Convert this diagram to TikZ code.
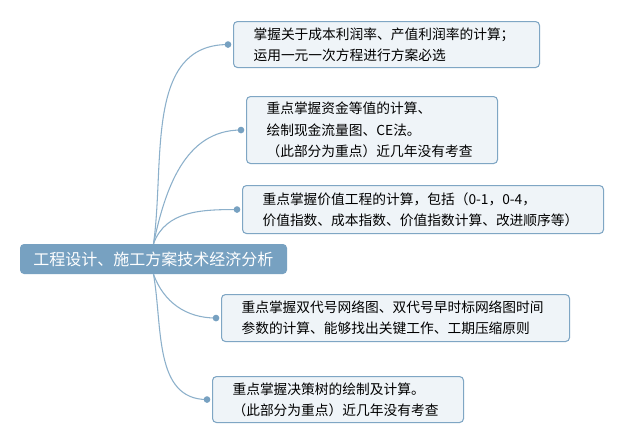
\documentclass[tikz,border=0pt]{standalone}
\usepackage{fontspec}
\setmainfont{Noto Sans CJK SC}
\usetikzlibrary{calc}
\definecolor{mapblue}{HTML}{77A1C1}
\definecolor{boxfill}{HTML}{EFF4F8}
\definecolor{boxline}{HTML}{7FA6C4}
\definecolor{linkcol}{HTML}{8CB0CB}
\tikzset{
  topic/.style={rectangle, rounded corners=3pt, fill=mapblue, text=white,
    font=\fontsize{12pt}{14pt}\selectfont, minimum width=200.25pt,
    minimum height=22.5pt, inner sep=0pt},
  leaf/.style={rectangle, rounded corners=3pt, draw=boxline, line width=0.8pt,
    fill=boxfill, align=left, inner xsep=15pt, inner ysep=0pt, anchor=north west,
    font=\fontsize{10.3pt}{16pt}\selectfont},
  link/.style={draw=linkcol, line width=0.8pt},
  knob/.style={circle, fill=mapblue, inner sep=0pt, minimum size=5pt}
}
\begin{document}
\begin{tikzpicture}[x=0.75pt,y=-0.75pt]
\useasboundingbox[fill=white] (0,0) rectangle (625,443);
% central topic
\node[topic] (root) at (153.5,259) {工程设计、施工方案技术经济分析};
% branches
\node[leaf, text width=199.5pt, minimum height=34.5pt] (b1) at (233,21)
  {掌握关于成本利润率、产值利润率的计算；\\运用一元一次方程进行方案必选};
\node[leaf, text width=158.25pt, minimum height=50.25pt] (b2) at (246,96)
  {重点掌握资金等值的计算、\\绘制现金流量图、CE法。\\（此部分为重点）近几年没有考查};
\node[leaf, text width=240.75pt, minimum height=36pt] (b3) at (242,185)
  {重点掌握价值工程的计算，包括（0-1，0-4，\\价值指数、成本指数、价值指数计算、改进顺序等）};
\node[leaf, text width=231pt, minimum height=35.25pt] (b4) at (221,294)
  {重点掌握双代号网络图、双代号早时标网络图时间\\参数的计算、能够找出关键工作、工期压缩原则};
\node[leaf, text width=158.25pt, minimum height=34.5pt] (b5) at (212,376)
  {重点掌握决策树的绘制及计算。\\（此部分为重点）近几年没有考查};
% end points of the links
\foreach \i in {1,...,5} {
  \coordinate (p\i) at ($(b\i.west)+(-5,0)$);
}
\draw[link] (root.north) to[out=82,in=180] (p1);
\draw[link] (root.north) to[out=78,in=180] (p2);
\draw[link] (root.north) to[out=70,in=180] (p3);
\draw[link] (root.south) to[out=-70,in=180] (p4);
\draw[link] (root.south) to[out=-80,in=180] (p5);
\foreach \i in {1,...,5} {
  \node[knob] (k\i) at (p\i) {};
}
\end{tikzpicture}
\end{document}
